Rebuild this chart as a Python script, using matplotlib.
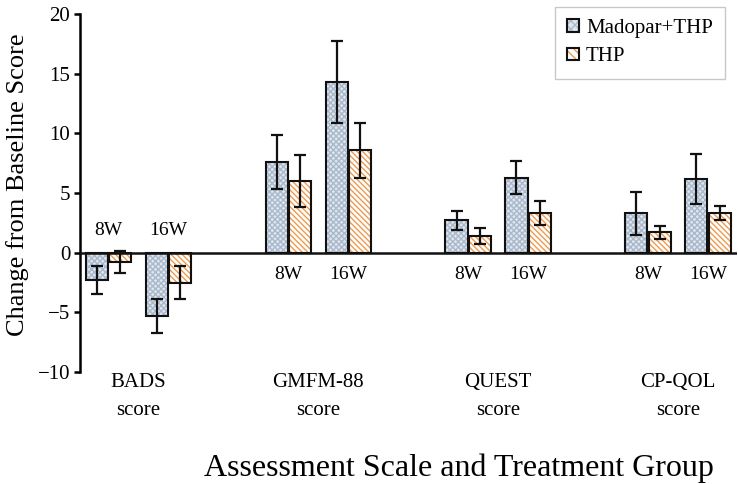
import numpy as np
import matplotlib
matplotlib.use("Agg")
import matplotlib.pyplot as plt
from matplotlib.patches import Patch
from matplotlib.legend_handler import HandlerTuple

# ---- data ----
scales = ["BADS\nscore", "GMFM-88\nscore", "QUEST\nscore", "CP-QOL\nscore"]
timepoints = ["8W", "16W"]
series = ["Madopar+THP", "THP"]
# values ordered: scale x timepoint
madopar_mean = [-2.3, -5.3, 7.6, 14.3, 2.7, 6.3, 3.3, 6.2]
madopar_err = [1.2, 1.4, 2.3, 3.4, 0.8, 1.4, 1.8, 2.1]
thp_mean = [-0.8, -2.5, 6.0, 8.6, 1.4, 3.3, 1.7, 3.3]
thp_err = [0.9, 1.4, 2.2, 2.3, 0.7, 1.0, 0.55, 0.6]

plt.rcParams['font.family'] = ['Liberation Serif', 'DejaVu Serif']
plt.rcParams['hatch.linewidth'] = 1.0

fig = plt.figure(figsize=(7.38, 4.84), dpi=100)
ax = fig.add_axes([0.1084, 0.2314, 0.89, 0.7396])

group_step = 3.0
pair_centers = []
for g in range(len(scales)):
    for t in range(len(timepoints)):
        pair_centers.append(g * group_step + t)
pair_centers = np.array(pair_centers)
w = 0.37
off = 0.195

blue_face = '#dfe6ee'
blue_hatch = '#a9b9cb'
orange_hatch = '#ef9a4e'
blue_hatch_pat = 'xxxxxx'
orange_hatch_pat = '\\\\\\\\\\\\'

x1 = pair_centers - off
x2 = pair_centers + off
# hatched fills
ax.bar(x1, madopar_mean, w, color=blue_face, edgecolor=blue_hatch, hatch=blue_hatch_pat, linewidth=0, zorder=2)
ax.bar(x2, thp_mean, w, color='white', edgecolor=orange_hatch, hatch=orange_hatch_pat, linewidth=0, zorder=2)
# outlines
ax.bar(x1, madopar_mean, w, fill=False, edgecolor='#111111', linewidth=1.5, zorder=3)
ax.bar(x2, thp_mean, w, fill=False, edgecolor='#111111', linewidth=1.5, zorder=3)
# error bars
ax.errorbar(x1, madopar_mean, yerr=madopar_err, fmt='none', ecolor='#111111', elinewidth=1.6, capsize=4.5, capthick=1.6, zorder=4)
ax.errorbar(x2, thp_mean, yerr=thp_err, fmt='none', ecolor='#111111', elinewidth=1.6, capsize=4.5, capthick=1.6, zorder=4)

# legend proxies (coloured hatch + dark outline)
h1 = (Patch(facecolor=blue_face, edgecolor=blue_hatch, hatch='xxxx', linewidth=0),
      Patch(fill=False, edgecolor='#111111', linewidth=1.5))
h2 = (Patch(facecolor='white', edgecolor=orange_hatch, hatch='\\\\\\\\', linewidth=0),
      Patch(fill=False, edgecolor='#111111', linewidth=1.5))
leg = ax.legend([h1, h2], series, loc='upper right', bbox_to_anchor=(0.9985, 1.05),
                handler_map={tuple: HandlerTuple(ndivide=1, pad=0)},
                fontsize=15, frameon=True, fancybox=False, edgecolor='#bbbbbb',
                handlelength=0.55, handleheight=0.55, handletextpad=0.35, borderpad=0.6,
                labelspacing=0.45, borderaxespad=0.5)
leg.get_frame().set_linewidth(1.0)

# timepoint labels
for i, c in enumerate(pair_centers):
    lbl = timepoints[i % 2]
    if madopar_mean[i] < 0:
        ax.text(c, 1.9, lbl, ha='center', va='center', fontsize=14)
    else:
        ax.text(c, -1.85, lbl, ha='center', va='center', fontsize=14)

ax.set_xlim(-0.475, 10.48)
ax.set_ylim(-10, 20)
ax.set_yticks([-10, -5, 0, 5, 10, 15, 20])
ax.set_yticklabels(['\u221210', '\u22125', '0', '5', '10', '15', '20'])
ax.axhline(0, color='#111111', linewidth=1.8, zorder=5)

ax.set_xticks([g * group_step + 0.5 for g in range(len(scales))])
ax.set_xticklabels(scales, fontsize=15, linespacing=1.6)
ax.tick_params(axis='x', length=0, pad=1)
ax.tick_params(axis='y', length=4, width=1.8, labelsize=15, pad=3, direction='out')

for s in ['top', 'right', 'bottom']:
    ax.spines[s].set_visible(False)
ax.spines['left'].set_linewidth(1.8)

ax.set_ylabel('Change from Baseline Score', fontsize=19)
ax.yaxis.set_label_coords(-0.078, 0.522)
ax.set_xlabel('Assessment Scale and Treatment Group', fontsize=23)
ax.xaxis.set_label_coords(0.577, -0.228)

fig.savefig('out.png', dpi=100)
